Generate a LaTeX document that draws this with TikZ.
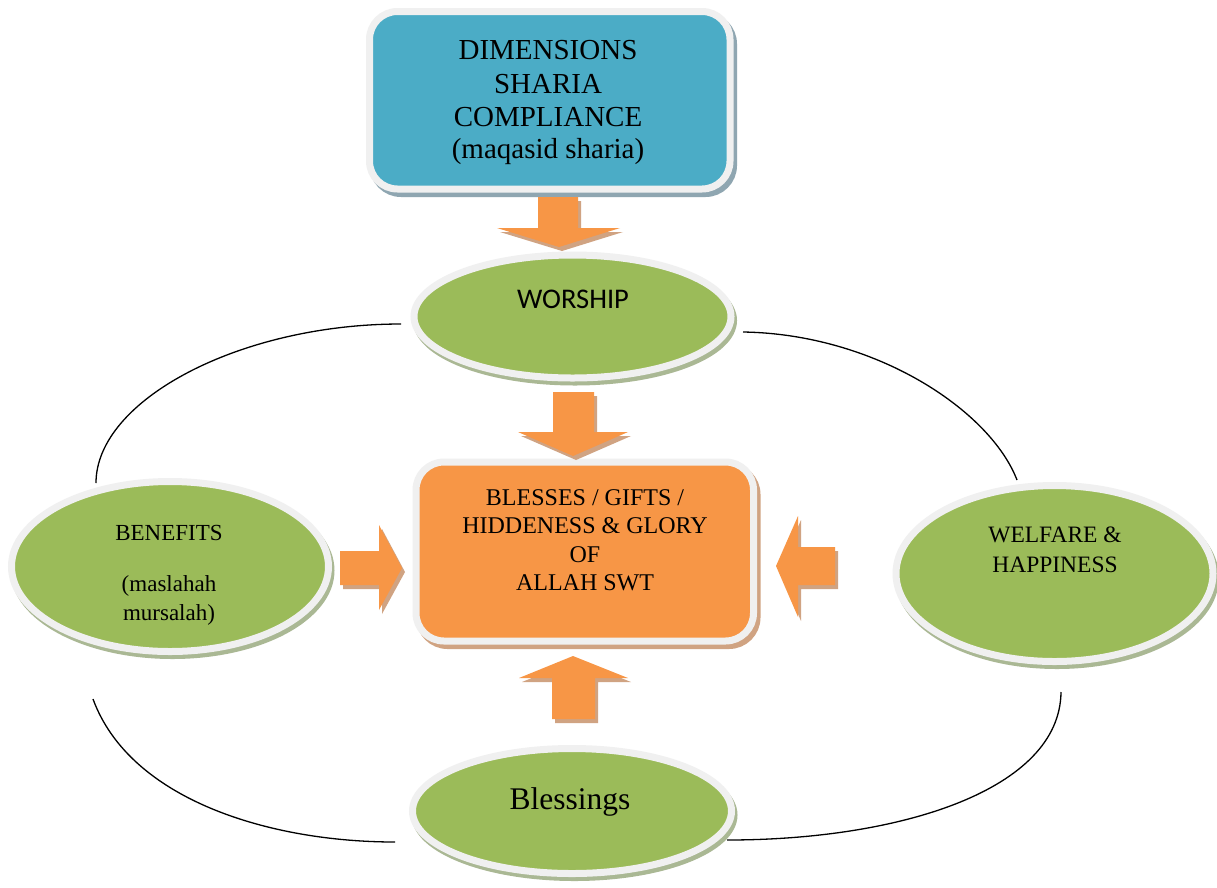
\documentclass[tikz,border=0pt]{standalone}
\usepackage{fontspec}
\setmainfont{Liberation Serif}
\newfontfamily\calibrifont{Carlito}
\usetikzlibrary{shapes.geometric}
\definecolor{ringc}{RGB}{240,240,240}
\definecolor{bluefill}{RGB}{75,172,198}
\definecolor{greenfill}{RGB}{155,187,89}
\definecolor{orangefill}{RGB}{247,150,70}
\definecolor{blueshadow}{RGB}{143,166,177}
\definecolor{greenshadow}{RGB}{170,184,148}
\definecolor{orangeshadow}{RGB}{208,163,130}
\begin{document}
\begin{tikzpicture}[x=1pt,y=-1pt,
  ell/.style={ellipse, inner sep=0pt, outer sep=0pt, line width=7pt},
  greenell/.style={ell, draw=ringc, fill=greenfill},
  greensh/.style={ell, draw=greenshadow, fill=greenshadow},
  rbox/.style={rectangle, rounded corners=28pt, inner sep=0pt, outer sep=0pt, line width=7pt},
  txt/.style={anchor=base, inner sep=0pt, text=black},
  arc/.style={line width=1.3pt, black},
  barrow/.style={fill=orangefill},
  barrowsh/.style={fill=orangeshadow, shift={(3,4)}}]
\useasboundingbox (0,0) rectangle (1217,887);
\fill[white] (0,0) rectangle (1217,887);

% ring connector arcs (behind shapes)
\coordinate (tl1) at (401,324); \coordinate (tl2) at (96,483);
\coordinate (tr1) at (743,332); \coordinate (tr2) at (1017,480);
\coordinate (bl1) at (93,699);  \coordinate (bl2) at (395,842);
\coordinate (br1) at (1061,692); \coordinate (br2) at (727,840);
\draw[arc] (tl1) .. controls (240,324) and (96,400) .. (tl2);
\draw[arc] (tr1) .. controls (875,334) and (990,410) .. (tr2);
\draw[arc] (bl1) .. controls (130,800) and (270,842) .. (bl2);
\draw[arc] (br1) .. controls (1060,790) and (900,840) .. (br2);

% top box
\node[rbox, draw=blueshadow, fill=blueshadow, minimum width=360.5pt, minimum height=177.5pt] (topsh) at (553.25,104.75) {};
\node[rbox, draw=ringc, fill=bluefill, minimum width=360.5pt, minimum height=177.5pt] (top) at (549.75,100.25) {};
\begin{scope}[every node/.style={txt, font=\fontsize{29}{33}\selectfont}]
\node (t1) at (548,59) {DIMENSIONS};
\node (t2) at (548,93) {SHARIA};
\node (t3) at (548,126) {COMPLIANCE};
\node (t4) at (548,158) {(maqasid sharia)};
\end{scope}

% worship
\node[greensh, minimum width=317pt, minimum height=123pt] (worshipsh) at (575,320.5) {};
\node[greenell, minimum width=317pt, minimum height=123pt] (worship) at (572.5,316.5) {};
\node[txt, font=\calibrifont\fontsize{28.5}{32}\selectfont] (worshiptxt) at (573,308) {WORSHIP};

% center box
\node[rbox, draw=orangeshadow, fill=orangeshadow, minimum width=337.5pt, minimum height=179pt] (centersh) at (588.25,556) {};
\node[rbox, draw=ringc, fill=orangefill, minimum width=337.5pt, minimum height=179pt] (center) at (584.75,551.5) {};
\begin{scope}[every node/.style={txt, font=\fontsize{24}{28}\selectfont}]
\node (c1) at (585,505) {BLESSES / GIFTS /};
\node (c2) at (585,533) {HIDDENESS \& GLORY};
\node (c3) at (585,562) {OF};
\node (c4) at (585,590) {ALLAH SWT};
\end{scope}

% benefits
\node[greensh, minimum width=317pt, minimum height=170pt] (benefitssh) at (172.5,570.5) {};
\node[greenell, minimum width=317pt, minimum height=170pt] (benefits) at (170,566.5) {};
\begin{scope}[every node/.style={txt, font=\fontsize{23}{28}\selectfont}]
\node (b1) at (169,540) {BENEFITS};
\node (b2) at (169,591) {(maslahah};
\node (b3) at (169,620) {mursalah)};
\end{scope}

% welfare
\node[greensh, minimum width=317pt, minimum height=176pt] (welfaresh) at (1057,577.5) {};
\node[greenell, minimum width=317pt, minimum height=176pt] (welfare) at (1054.5,573.5) {};
\begin{scope}[every node/.style={txt, font=\fontsize{23.5}{28}\selectfont}]
\node (w1) at (1055,542) {WELFARE \&};
\node (w2) at (1055,572) {HAPPINESS};
\end{scope}

% blessings
\node[greensh, minimum width=319pt, minimum height=125pt] (blessingssh) at (574.5,815) {};
\node[greenell, minimum width=319pt, minimum height=125pt] (blessings) at (572,811) {};
\node[txt, font=\fontsize{31.5}{36}\selectfont] (blessingstxt) at (570,809) {Blessings};

% block arrows
\fill[barrowsh] (538,197) -- (578,197) -- (578,228) -- (620,228) -- (559,247) -- (497,228) -- (538,228) -- cycle;
\fill[barrow]   (538,197) -- (578,197) -- (578,228) -- (620,228) -- (559,247) -- (497,228) -- (538,228) -- cycle;
\fill[barrowsh] (553,392) -- (594,392) -- (594,432) -- (628,432) -- (573,456) -- (518,432) -- (553,432) -- cycle;
\fill[barrow]   (553,392) -- (594,392) -- (594,432) -- (628,432) -- (573,456) -- (518,432) -- (553,432) -- cycle;
\fill[barrowsh] (552,719) -- (595,719) -- (595,678) -- (628,678) -- (573,656) -- (519,678) -- (552,678) -- cycle;
\fill[barrow]   (552,719) -- (595,719) -- (595,678) -- (628,678) -- (573,656) -- (519,678) -- (552,678) -- cycle;
\fill[barrowsh] (340,551) -- (379,551) -- (379,525) -- (402,568) -- (379,610) -- (379,585) -- (340,585) -- cycle;
\fill[barrow]   (340,551) -- (379,551) -- (379,525) -- (402,568) -- (379,610) -- (379,585) -- (340,585) -- cycle;
\fill[barrowsh] (835,547) -- (798,547) -- (798,516) -- (776,566) -- (798,617) -- (798,585) -- (835,585) -- cycle;
\fill[barrow]   (835,547) -- (798,547) -- (798,516) -- (776,566) -- (798,617) -- (798,585) -- (835,585) -- cycle;
\end{tikzpicture}
\end{document}
